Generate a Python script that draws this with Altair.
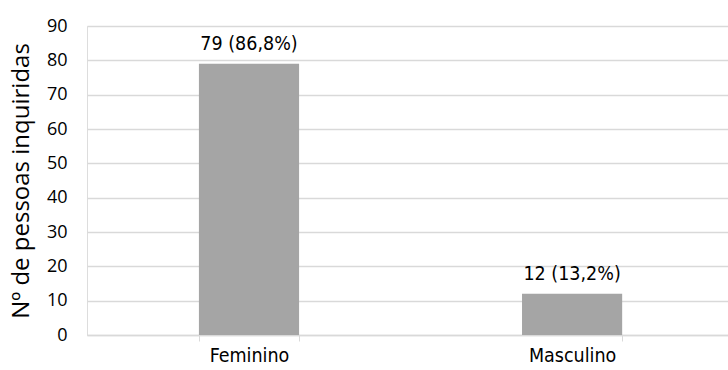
import altair as alt
import pandas as pd

# Respondents by sex
categories = ["Feminino", "Masculino"]
counts = [79, 12]
percents = ["86,8%", "13,2%"]

df = pd.DataFrame({
    "sexo": categories,
    "n": counts,
    "rotulo": [f"{n} ({p})" for n, p in zip(counts, percents)],
})

AXIS_FONT = "Open Sans"
TEXT_FONT = "DejaVu Sans Condensed"

base = alt.Chart(df).encode(
    x=alt.X(
        "sexo:N",
        sort=categories,
        title=None,
        scale=alt.Scale(paddingInner=0.69, paddingOuter=0.337, align=0.514),
        axis=alt.Axis(
            labelAngle=0,
            labelFont=TEXT_FONT,
            labelFontSize=19.5,
            labelColor="#000000",
            labelPadding=5,
            tickBand="extent",
            ticks=True,
            tickColor="#d9d9d9",
            tickSize=6,
            domainColor="#d9d9d9",
            domainWidth=1.5,
            grid=False,
        ),
    ),
    y=alt.Y(
        "n:Q",
        title="Nº de pessoas inquiridas",
        scale=alt.Scale(domain=[0, 90], nice=False),
        axis=alt.Axis(
            values=list(range(0, 91, 10)),
            labelFont=AXIS_FONT,
            labelFontSize=18,
            labelColor="#000000",
            labelPadding=20,
            ticks=False,
            domain=False,
            gridColor="#d9d9d9",
            gridWidth=1.5,
            titleFont=AXIS_FONT,
            titleFontSize=24,
            titleFontWeight="normal",
            titleColor="#000000",
            titlePadding=13,
        ),
    ),
)

bars = base.mark_bar(color="#a5a5a5")

labels = base.mark_text(
    baseline="alphabetic", dy=-14, font=TEXT_FONT, fontSize=19.5, color="#000000"
).encode(text="rotulo:N")

chart = (
    (bars + labels)
    .properties(
        width=641,
        height=309,
        autosize=alt.AutoSizeParams(type="none"),
        padding={"left": 87, "top": 26, "right": 0, "bottom": 35},
    )
    .configure_view(stroke=None)
    .configure(background="#ffffff")
)

chart.save("out.html", embed_options={"renderer": "svg", "actions": False})
